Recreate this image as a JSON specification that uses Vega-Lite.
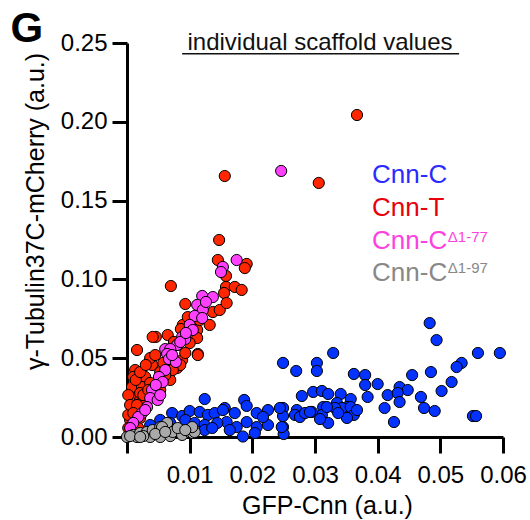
{
  "$schema": "https://vega.github.io/schema/vega-lite/v6.json",
  "width": 376,
  "height": 394,
  "autosize": {"type": "none"},
  "padding": {"left": 127, "top": 43, "right": 27, "bottom": 83},
  "background": "white",
  "config": {
    "view": {"stroke": null},
    "font": "Liberation Sans",
    "axis": {
      "domainColor": "black", "domainWidth": 3, "tickColor": "black", "tickWidth": 3,
      "labelFont": "Liberation Sans", "labelFontSize": 24, "labelColor": "black", "labelOverlap": false, "labelFlush": false,
      "titleFont": "Liberation Sans", "titleFontSize": 25, "titleFontWeight": "normal", "titleColor": "black",
      "grid": false
    }
  },
  "datasets": {
    "pts": [
      {"s":"Cnn-C","x":0.0249,"y":0.0470},{"s":"Cnn-C","x":0.0270,"y":0.0419},{"s":"Cnn-C","x":0.0303,"y":0.0470},{"s":"Cnn-C","x":0.0303,"y":0.0419},
      {"s":"Cnn-C","x":0.0329,"y":0.0533},{"s":"Cnn-C","x":0.0483,"y":0.0723},{"s":"Cnn-C","x":0.0494,"y":0.0615},{"s":"Cnn-C","x":0.0560,"y":0.0533},
      {"s":"Cnn-C","x":0.0595,"y":0.0533},{"s":"Cnn-C","x":0.0534,"y":0.0470},{"s":"Cnn-C","x":0.0526,"y":0.0444},{"s":"Cnn-C","x":0.0362,"y":0.0400},
      {"s":"Cnn-C","x":0.0380,"y":0.0393},{"s":"Cnn-C","x":0.0455,"y":0.0393},{"s":"Cnn-C","x":0.0485,"y":0.0412},{"s":"Cnn-C","x":0.0518,"y":0.0349},
      {"s":"Cnn-C","x":0.0502,"y":0.0292},{"s":"Cnn-C","x":0.0380,"y":0.0330},{"s":"Cnn-C","x":0.0400,"y":0.0336},{"s":"Cnn-C","x":0.0384,"y":0.0254},
      {"s":"Cnn-C","x":0.0435,"y":0.0317},{"s":"Cnn-C","x":0.0448,"y":0.0298},{"s":"Cnn-C","x":0.0416,"y":0.0266},{"s":"Cnn-C","x":0.0432,"y":0.0279},
      {"s":"Cnn-C","x":0.0435,"y":0.0222},{"s":"Cnn-C","x":0.0469,"y":0.0254},{"s":"Cnn-C","x":0.0474,"y":0.0184},{"s":"Cnn-C","x":0.0491,"y":0.0165},
      {"s":"Cnn-C","x":0.0411,"y":0.0184},{"s":"Cnn-C","x":0.0426,"y":0.0095},{"s":"Cnn-C","x":0.0552,"y":0.0133},{"s":"Cnn-C","x":0.0557,"y":0.0133},
      {"s":"Cnn-C","x":0.0279,"y":0.0260},{"s":"Cnn-C","x":0.0297,"y":0.0286},{"s":"Cnn-C","x":0.0311,"y":0.0292},{"s":"Cnn-C","x":0.0321,"y":0.0273},
      {"s":"Cnn-C","x":0.0341,"y":0.0273},{"s":"Cnn-C","x":0.0357,"y":0.0241},{"s":"Cnn-C","x":0.0335,"y":0.0216},{"s":"Cnn-C","x":0.0351,"y":0.0190},
      {"s":"Cnn-C","x":0.0343,"y":0.0184},{"s":"Cnn-C","x":0.0357,"y":0.0190},{"s":"Cnn-C","x":0.0362,"y":0.0140},{"s":"Cnn-C","x":0.0351,"y":0.0121},
      {"s":"Cnn-C","x":0.0332,"y":0.0184},{"s":"Cnn-C","x":0.0313,"y":0.0190},{"s":"Cnn-C","x":0.0311,"y":0.0140},{"s":"Cnn-C","x":0.0321,"y":0.0089},
      {"s":"Cnn-C","x":0.0295,"y":0.0159},{"s":"Cnn-C","x":0.0271,"y":0.0171},{"s":"Cnn-C","x":0.0268,"y":0.0140},{"s":"Cnn-C","x":0.0249,"y":0.0184},
      {"s":"Cnn-C","x":0.0249,"y":0.0133},{"s":"Cnn-C","x":0.0249,"y":0.0063},{"s":"Cnn-C","x":0.0250,"y":0.0019},{"s":"Cnn-C","x":0.0308,"y":0.0114},
      {"s":"Cnn-C","x":0.0276,"y":0.0127},{"s":"Cnn-C","x":0.0284,"y":0.0152},{"s":"Cnn-C","x":0.0337,"y":0.0152},{"s":"Cnn-C","x":0.0367,"y":0.0171},
      {"s":"Cnn-C","x":0.0124,"y":0.0241},{"s":"Cnn-C","x":0.0187,"y":0.0235},{"s":"Cnn-C","x":0.0156,"y":0.0184},{"s":"Cnn-C","x":0.0172,"y":0.0152},
      {"s":"Cnn-C","x":0.0191,"y":0.0197},{"s":"Cnn-C","x":0.0207,"y":0.0152},{"s":"Cnn-C","x":0.0225,"y":0.0171},{"s":"Cnn-C","x":0.0244,"y":0.0184},
      {"s":"Cnn-C","x":0.0292,"y":0.0159},{"s":"Cnn-C","x":0.0319,"y":0.0190},{"s":"Cnn-C","x":0.0159,"y":0.0095},{"s":"Cnn-C","x":0.0175,"y":0.0063},
      {"s":"Cnn-C","x":0.0191,"y":0.0095},{"s":"Cnn-C","x":0.0207,"y":0.0063},{"s":"Cnn-C","x":0.0225,"y":0.0076},{"s":"Cnn-C","x":0.0247,"y":0.0063},
      {"s":"Cnn-C","x":0.0185,"y":0.0003},{"s":"Cnn-C","x":0.0204,"y":0.0025},{"s":"Cnn-C","x":0.0217,"y":0.0127},{"s":"Cnn-C","x":0.0072,"y":0.0152},
      {"s":"Cnn-C","x":0.0088,"y":0.0133},{"s":"Cnn-C","x":0.0100,"y":0.0165},{"s":"Cnn-C","x":0.0116,"y":0.0159},{"s":"Cnn-C","x":0.0129,"y":0.0140},
      {"s":"Cnn-C","x":0.0140,"y":0.0152},{"s":"Cnn-C","x":0.0153,"y":0.0171},{"s":"Cnn-C","x":0.0093,"y":0.0108},{"s":"Cnn-C","x":0.0108,"y":0.0089},
      {"s":"Cnn-C","x":0.0124,"y":0.0076},{"s":"Cnn-C","x":0.0144,"y":0.0089},{"s":"Cnn-C","x":0.0124,"y":0.0044},{"s":"Cnn-C","x":0.0136,"y":0.0057},
      {"s":"Cnn-C","x":0.0069,"y":0.0089},{"s":"Cnn-C","x":0.0053,"y":0.0108},{"s":"Cnn-C","x":0.0037,"y":0.0076},{"s":"Cnn-C","x":0.0164,"y":0.0044},
      {"s":"Cnn-T","x":0.0367,"y":0.2043},{"s":"Cnn-T","x":0.0306,"y":0.1612},{"s":"Cnn-T","x":0.0156,"y":0.1656},{"s":"Cnn-T","x":0.0147,"y":0.1250},
      {"s":"Cnn-T","x":0.0145,"y":0.1123},{"s":"Cnn-T","x":0.0191,"y":0.1098},{"s":"Cnn-T","x":0.0188,"y":0.1072},{"s":"Cnn-T","x":0.0158,"y":0.1022},
      {"s":"Cnn-T","x":0.0070,"y":0.0958},{"s":"Cnn-T","x":0.0158,"y":0.0952},{"s":"Cnn-T","x":0.0172,"y":0.0952},{"s":"Cnn-T","x":0.0183,"y":0.0933},
      {"s":"Cnn-T","x":0.0155,"y":0.0914},{"s":"Cnn-T","x":0.0093,"y":0.0844},{"s":"Cnn-T","x":0.0137,"y":0.0793},{"s":"Cnn-T","x":0.0089,"y":0.0711},
      {"s":"Cnn-T","x":0.0086,"y":0.0685},{"s":"Cnn-T","x":0.0112,"y":0.0679},{"s":"Cnn-T","x":0.0112,"y":0.0628},{"s":"Cnn-T","x":0.0046,"y":0.0635},
      {"s":"Cnn-T","x":0.0065,"y":0.0647},{"s":"Cnn-T","x":0.0075,"y":0.0603},{"s":"Cnn-T","x":0.0081,"y":0.0584},{"s":"Cnn-T","x":0.0113,"y":0.0527},
      {"s":"Cnn-T","x":0.0016,"y":0.0552},{"s":"Cnn-T","x":0.0037,"y":0.0489},{"s":"Cnn-T","x":0.0040,"y":0.0457},{"s":"Cnn-T","x":0.0083,"y":0.0470},
      {"s":"Cnn-T","x":0.0080,"y":0.0438},{"s":"Cnn-T","x":0.0088,"y":0.0489},{"s":"Cnn-T","x":0.0013,"y":0.0425},{"s":"Cnn-T","x":0.0010,"y":0.0381},
      {"s":"Cnn-T","x":0.0008,"y":0.0317},{"s":"Cnn-T","x":0.0026,"y":0.0343},{"s":"Cnn-T","x":0.0069,"y":0.0362},{"s":"Cnn-T","x":0.0010,"y":0.0247},
      {"s":"Cnn-T","x":0.0008,"y":0.0190},{"s":"Cnn-T","x":0.0005,"y":0.0108},{"s":"Cnn-T","x":0.0002,"y":0.0057},{"s":"Cnn-T","x":0.0041,"y":0.0635},
      {"s":"Cnn-T","x":0.0037,"y":0.0501},{"s":"Cnn-T","x":0.0029,"y":0.0381},{"s":"Cnn-T","x":0.0113,"y":0.0520},{"s":"Cnn-T","x":0.0100,"y":0.0596},
      {"s":"Cnn-T","x":0.0093,"y":0.0533},{"s":"Cnn-T","x":0.0085,"y":0.0457},{"s":"Cnn-T","x":0.0073,"y":0.0425},{"s":"Cnn-T","x":0.0061,"y":0.0393},
      {"s":"Cnn-T","x":0.0024,"y":0.0317},{"s":"Cnn-T","x":0.0037,"y":0.0343},{"s":"Cnn-T","x":0.0132,"y":0.0711},{"s":"Cnn-T","x":0.0097,"y":0.0761},
      {"s":"Cnn-T","x":0.0148,"y":0.0806},{"s":"Cnn-T","x":0.0159,"y":0.0850},{"s":"Cnn-T","x":0.0116,"y":0.0742},{"s":"Cnn-T","x":0.0053,"y":0.0298},
      {"s":"Cnn-T","x":0.0021,"y":0.0235},{"s":"Cnn-T","x":0.0029,"y":0.0203},{"s":"Cnn-T","x":0.0018,"y":0.0159},{"s":"Cnn-T","x":0.0013,"y":0.0108},
      {"s":"Cnn-T","x":0.0021,"y":0.0279},{"s":"Cnn-T","x":0.0002,"y":0.0140},{"s":"Cnn-T","x":0.0006,"y":0.0032},{"s":"Cnn-T","x":0.0045,"y":0.0266},
      {"s":"Cnn-T","x":0.0053,"y":0.0412},{"s":"Cnn-T","x":0.0002,"y":0.0266},{"s":"Cnn-T","x":0.0014,"y":0.0362},{"s":"Cnn-T","x":0.0021,"y":0.0412},
      {"s":"Cnn-T","x":0.0030,"y":0.0457},{"s":"Cnn-T","x":0.0005,"y":0.0203},{"s":"Cnn-T","x":0.0016,"y":0.0203},{"s":"Cnn-T","x":0.0026,"y":0.0266},
      {"s":"Cnn-T","x":0.0034,"y":0.0298},{"s":"Cnn-T","x":0.0010,"y":0.0152},{"s":"Cnn-T","x":0.0021,"y":0.0121},{"s":"Cnn-T","x":0.0010,"y":0.0076},
      {"s":"Cnn-T","x":0.0018,"y":0.0057},{"s":"Cnn-T","x":0.0045,"y":0.0520},{"s":"Cnn-T","x":0.0058,"y":0.0470},{"s":"Cnn-T","x":0.0066,"y":0.0520},
      {"s":"D77","x":0.0246,"y":0.1688},{"s":"D77","x":0.0175,"y":0.1123},{"s":"D77","x":0.0153,"y":0.1079},{"s":"D77","x":0.0150,"y":0.1047},
      {"s":"D77","x":0.0120,"y":0.0895},{"s":"D77","x":0.0137,"y":0.0888},{"s":"D77","x":0.0112,"y":0.0838},{"s":"D77","x":0.0121,"y":0.0806},
      {"s":"D77","x":0.0108,"y":0.0768},{"s":"D77","x":0.0120,"y":0.0755},{"s":"D77","x":0.0100,"y":0.0711},{"s":"D77","x":0.0105,"y":0.0679},
      {"s":"D77","x":0.0088,"y":0.0635},{"s":"D77","x":0.0093,"y":0.0622},{"s":"D77","x":0.0080,"y":0.0584},{"s":"D77","x":0.0085,"y":0.0603},
      {"s":"D77","x":0.0061,"y":0.0558},{"s":"D77","x":0.0069,"y":0.0558},{"s":"D77","x":0.0064,"y":0.0527},{"s":"D77","x":0.0067,"y":0.0495},
      {"s":"D77","x":0.0061,"y":0.0425},{"s":"D77","x":0.0051,"y":0.0381},{"s":"D77","x":0.0057,"y":0.0349},{"s":"D77","x":0.0040,"y":0.0298},
      {"s":"D77","x":0.0037,"y":0.0247},{"s":"D77","x":0.0032,"y":0.0190},{"s":"D77","x":0.0024,"y":0.0152},{"s":"D77","x":0.0018,"y":0.0127},
      {"s":"D77","x":0.0010,"y":0.0089},{"s":"D77","x":0.0005,"y":0.0057},{"s":"D77","x":0.0046,"y":0.0330},{"s":"D77","x":0.0078,"y":0.0476},
      {"s":"D77","x":0.0094,"y":0.0660},{"s":"D77","x":0.0126,"y":0.0857},{"s":"D77","x":0.0072,"y":0.0520},{"s":"D77","x":0.0049,"y":0.0235},
      {"s":"D77","x":0.0029,"y":0.0171},{"s":"D77","x":0.0053,"y":0.0266},
      {"s":"D97","x":0.0000,"y":0.0000},{"s":"D97","x":0.0010,"y":0.0013},{"s":"D97","x":0.0016,"y":0.0000},{"s":"D97","x":0.0021,"y":0.0025},
      {"s":"D97","x":0.0032,"y":0.0032},{"s":"D97","x":0.0037,"y":0.0000},{"s":"D97","x":0.0041,"y":0.0044},{"s":"D97","x":0.0053,"y":0.0063},
      {"s":"D97","x":0.0053,"y":0.0000},{"s":"D97","x":0.0064,"y":0.0089},{"s":"D97","x":0.0069,"y":0.0006},{"s":"D97","x":0.0073,"y":0.0032},
      {"s":"D97","x":0.0088,"y":0.0013},{"s":"D97","x":0.0100,"y":0.0032},{"s":"D97","x":0.0105,"y":0.0025},{"s":"D97","x":0.0108,"y":0.0032},
      {"s":"D97","x":0.0104,"y":0.0063},{"s":"D97","x":0.0056,"y":0.0063},{"s":"D97","x":0.0026,"y":0.0006},{"s":"D97","x":0.0005,"y":0.0006},
      {"s":"D97","x":0.0045,"y":0.0019},{"s":"D97","x":0.0081,"y":0.0057},{"s":"D97","x":0.0093,"y":0.0044},{"s":"D97","x":0.0061,"y":0.0032},
      {"s":"D97","x":0.0021,"y":0.0000}
    ]
  },
  "layer": [
    {
      "data": {"name": "pts"},
      "mark": {"type": "point", "filled": true, "shape": "circle", "size": 125, "stroke": "black", "strokeWidth": 1, "opacity": 1},
      "encoding": {
        "x": {"field": "x", "type": "quantitative",
          "scale": {"domain": [0, 0.06], "nice": false},
          "axis": {"values": [0, 0.01, 0.02, 0.03, 0.04, 0.05, 0.06], "labelExpr": "datum.value == 0 ? '' : format(datum.value, '.2f')",
            "tickSize": 16, "labelPadding": 10, "title": "GFP-Cnn (a.u.)", "titlePadding": 6, "titleX": 200}},
        "y": {"field": "y", "type": "quantitative",
          "scale": {"domain": [0, 0.25], "nice": false},
          "axis": {"values": [0, 0.05, 0.1, 0.15, 0.2, 0.25], "format": ".2f",
            "tickSize": 15, "labelPadding": 5, "title": "γ-Tubulin37C-mCherry (a.u.)", "titlePadding": 12, "titleY": 168}},
        "fill": {"field": "s", "type": "nominal",
          "scale": {"domain": ["Cnn-C", "Cnn-T", "D77", "D97"], "range": ["#0433FF", "#FF2600", "#FF40FF", "#A9A9A9"]},
          "legend": null}
      }
    },
    {
      "data": {"values": [{}]},
      "mark": {"type": "text", "text": "individual scaffold values", "fontSize": 24, "align": "center", "baseline": "alphabetic", "color": "#111111"},
      "encoding": {"x": {"datum": 0.0308}, "y": {"datum": 0.2456}}
    },
    {
      "data": {"values": [{}]},
      "mark": {"type": "rule", "color": "#111111", "strokeWidth": 1.5},
      "encoding": {"x": {"datum": 0.0088}, "x2": {"datum": 0.0530}, "y": {"datum": 0.2432}}
    },
    {
      "data": {"values": [{}]},
      "mark": {"type": "text", "text": "G", "fontSize": 42, "fontWeight": "bold", "align": "left", "baseline": "alphabetic", "color": "black"},
      "encoding": {"x": {"datum": -0.0186}, "y": {"datum": 0.2506}}
    },
    {
      "data": {"values": [{}]},
      "mark": {"type": "text", "text": "Cnn-C", "fontSize": 26, "align": "left", "baseline": "alphabetic", "color": "#2B2BFF"},
      "encoding": {"x": {"datum": 0.0391}, "y": {"datum": 0.1612}}
    },
    {
      "data": {"values": [{}]},
      "mark": {"type": "text", "text": "Cnn-T", "fontSize": 26, "align": "left", "baseline": "alphabetic", "color": "#E8000B"},
      "encoding": {"x": {"datum": 0.0391}, "y": {"datum": 0.1402}}
    },
    {
      "data": {"values": [{}]},
      "mark": {"type": "text", "text": "Cnn-C", "fontSize": 26, "align": "left", "baseline": "alphabetic", "color": "#FF3FDF"},
      "encoding": {"x": {"datum": 0.0391}, "y": {"datum": 0.1193}}
    },
    {
      "data": {"values": [{}]},
      "mark": {"type": "text", "text": "Δ1-77", "fontSize": 15, "align": "left", "baseline": "alphabetic", "color": "#FF3FDF"},
      "encoding": {"x": {"datum": 0.0512}, "y": {"datum": 0.1237}}
    },
    {
      "data": {"values": [{}]},
      "mark": {"type": "text", "text": "Cnn-C", "fontSize": 26, "align": "left", "baseline": "alphabetic", "color": "#888888"},
      "encoding": {"x": {"datum": 0.0391}, "y": {"datum": 0.0990}}
    },
    {
      "data": {"values": [{}]},
      "mark": {"type": "text", "text": "Δ1-97", "fontSize": 15, "align": "left", "baseline": "alphabetic", "color": "#888888"},
      "encoding": {"x": {"datum": 0.0512}, "y": {"datum": 0.1041}}
    }
  ]
}
